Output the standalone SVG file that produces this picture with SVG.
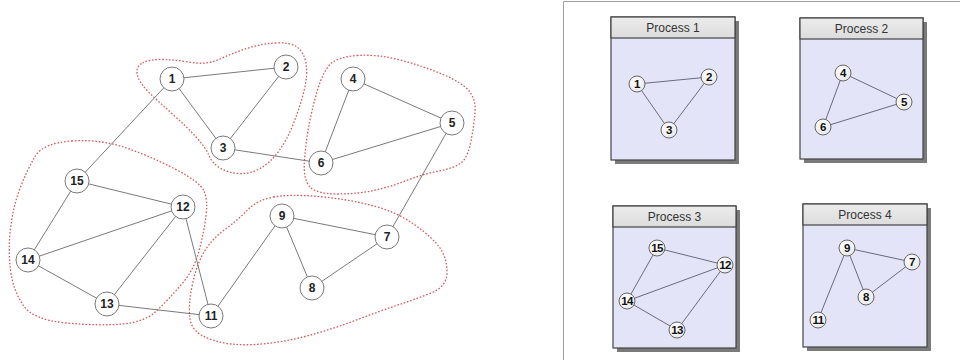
<svg xmlns="http://www.w3.org/2000/svg" width="960" height="360" viewBox="0 0 960 360">
<defs>
<radialGradient id="ng" cx="0.4" cy="0.35" r="0.7">
<stop offset="0" stop-color="#ffffff"/><stop offset="1" stop-color="#e8e8e8"/>
</radialGradient>
<linearGradient id="hg" x1="0" y1="0" x2="0" y2="1">
<stop offset="0" stop-color="#ececec"/><stop offset="1" stop-color="#dcdcdc"/>
</linearGradient>
</defs>
<style>
.e{stroke:#7a7a7a;stroke-width:1;fill:none}
.n circle{fill:#fff;stroke:#7a7a7a;stroke-width:1}
.n text{font-family:"Liberation Sans",Arial,sans-serif;font-weight:bold;font-size:12px;fill:#222;text-anchor:middle}
.s circle{fill:url(#ng);stroke:#666;stroke-width:1}
.s text{font-family:"Liberation Sans",Arial,sans-serif;font-weight:bold;font-size:11.5px;fill:#111;text-anchor:middle;letter-spacing:-0.6px}
.blob{fill:none;stroke:#d65a5a;stroke-width:1.3;stroke-dasharray:1.6 1.8}
.sh{fill:#7a7a7a}
.body{fill:#e4e4f8;stroke:#444;stroke-width:1.2}
.hd{fill:url(#hg);stroke:#444;stroke-width:1.2}
.ht{font-family:"Liberation Sans",Arial,sans-serif;font-size:12px;fill:#333;text-anchor:middle}
.se{stroke:#6a6a80;stroke-width:1;fill:none}
</style>
<rect width="960" height="360" fill="#fff"/>

<g id="partitions">
<path class="blob" d="M142.5,63 Q150,59 163.5,59.5 Q177,60 192,62.5 Q207,65 220,59 Q233,53 246.5,48.5 Q260,44 275,43 Q290,42 297,47 Q304,52 306,63.5 Q308,75 304,91 Q300,107 293.5,123.5 Q287,140 278.5,151.5 Q270,163 260,168.5 Q250,174 239,173.5 Q228,173 220,168 Q212,163 209,155.5 Q206,148 196.5,137.5 Q187,127 173.5,115 Q160,103 150,93.5 Q140,84 137.5,75.5 Q135,67 142.5,63 Z"/>
<path class="blob" d="M357,55.5 Q377,54 400,60 Q423,66 443,74.5 Q463,83 469.5,91.5 Q476,100 475,112.5 Q474,125 471,141 Q468,157 461.5,162.5 Q455,168 439,171 Q423,174 406.5,180.5 Q390,187 373.5,190.5 Q357,194 337,194 Q317,194 310,187 Q303,180 304.5,160 Q306,140 309.5,122.5 Q313,105 318,88.5 Q323,72 330,64.5 Q337,57 357,55.5 Z"/>
<path class="blob" d="M71.5,141 Q100,139 125,147.5 Q150,156 175,169 Q200,182 204,191 Q208,200 206,216 Q204,232 199,251 Q194,270 181,285 Q168,300 156.5,311 Q145,322 122.5,324 Q100,326 66.5,323 Q33,320 23,305 Q13,290 10.5,270 Q8,250 10.5,228.5 Q13,207 20,188.5 Q27,170 35,156.5 Q43,143 71.5,141 Z"/>
<path class="blob" d="M273.5,197 Q290,194 318.5,196.5 Q347,199 372,205.5 Q397,212 415,225 Q433,238 440,248 Q447,258 447,272.5 Q447,287 430,293.5 Q413,300 396.5,305.5 Q380,311 355,320.5 Q330,330 305,336.5 Q280,343 255,344.5 Q230,346 211,339.5 Q192,333 190,319 Q188,305 192.5,284 Q197,263 205,250.5 Q213,238 225.5,229 Q238,220 247.5,210 Q257,200 273.5,197 Z"/>
</g>

<g id="connectors">
<line class="e" x1="172" y1="79" x2="286" y2="67"/>
<line class="e" x1="172" y1="79" x2="223" y2="148"/>
<line class="e" x1="286" y1="67" x2="223" y2="148"/>
<line class="e" x1="223" y1="148" x2="321" y2="163"/>
<line class="e" x1="172" y1="79" x2="77" y2="181"/>
<line class="e" x1="353" y1="79" x2="452" y2="123"/>
<line class="e" x1="353" y1="79" x2="321" y2="163"/>
<line class="e" x1="321" y1="163" x2="452" y2="123"/>
<line class="e" x1="452" y1="123" x2="387" y2="237"/>
<line class="e" x1="77" y1="181" x2="183" y2="207"/>
<line class="e" x1="77" y1="181" x2="28" y2="260"/>
<line class="e" x1="28" y1="260" x2="183" y2="207"/>
<line class="e" x1="183" y1="207" x2="107" y2="304"/>
<line class="e" x1="28" y1="260" x2="107" y2="304"/>
<line class="e" x1="183" y1="207" x2="211" y2="316"/>
<line class="e" x1="107" y1="304" x2="211" y2="316"/>
<line class="e" x1="282" y1="216" x2="211" y2="316"/>
<line class="e" x1="282" y1="216" x2="387" y2="237"/>
<line class="e" x1="282" y1="216" x2="312" y2="288"/>
<line class="e" x1="312" y1="288" x2="387" y2="237"/>
</g>

<g id="n1" class="n"><circle cx="172" cy="79" r="12"/><text x="172" y="83">1</text></g>
<g id="n2" class="n"><circle cx="286" cy="67" r="12"/><text x="286" y="71">2</text></g>
<g id="n3" class="n"><circle cx="223" cy="148" r="12"/><text x="223" y="152">3</text></g>
<g id="n4" class="n"><circle cx="353" cy="79" r="12"/><text x="353" y="83">4</text></g>
<g id="n5" class="n"><circle cx="452" cy="123" r="12"/><text x="452" y="127">5</text></g>
<g id="n6" class="n"><circle cx="321" cy="163" r="12"/><text x="321" y="167">6</text></g>
<g id="n7" class="n"><circle cx="387" cy="237" r="12"/><text x="387" y="241">7</text></g>
<g id="n8" class="n"><circle cx="312" cy="288" r="12"/><text x="312" y="292">8</text></g>
<g id="n9" class="n"><circle cx="282" cy="216" r="12"/><text x="282" y="220">9</text></g>
<g id="n11" class="n"><circle cx="211" cy="316" r="12"/><text x="211" y="320">11</text></g>
<g id="n12" class="n"><circle cx="183" cy="207" r="12"/><text x="183" y="211">12</text></g>
<g id="n13" class="n"><circle cx="107" cy="304" r="12"/><text x="107" y="308">13</text></g>
<g id="n14" class="n"><circle cx="28" cy="260" r="12"/><text x="28" y="264">14</text></g>
<g id="n15" class="n"><circle cx="77" cy="181" r="12"/><text x="77" y="185">15</text></g>

<g id="frame">
<line x1="563.5" y1="1.5" x2="563.5" y2="360" stroke="#a0a0a0" stroke-width="1"/>
<line x1="563.5" y1="1.5" x2="960" y2="1.5" stroke="#a0a0a0" stroke-width="1"/>
</g>

<g id="process1">
<rect class="sh" x="615" y="21" width="124" height="143"/>
<rect class="body" x="611" y="17" width="124" height="143"/>
<rect class="hd" x="611" y="17" width="124" height="21"/>
<text class="ht" x="673" y="32">Process 1</text>
<line class="se" x1="637" y1="84" x2="709" y2="77"/>
<line class="se" x1="637" y1="84" x2="669" y2="130"/>
<line class="se" x1="709" y1="77" x2="669" y2="130"/>
<g class="s"><circle cx="637" cy="84" r="8"/><text x="637" y="88">1</text></g>
<g class="s"><circle cx="709" cy="77" r="8"/><text x="709" y="81">2</text></g>
<g class="s"><circle cx="669" cy="130" r="8"/><text x="669" y="134">3</text></g>
</g>

<g id="process2">
<rect class="sh" x="804" y="22" width="123" height="141"/>
<rect class="body" x="800" y="18" width="123" height="141"/>
<rect class="hd" x="800" y="18" width="123" height="21"/>
<text class="ht" x="861.5" y="33">Process 2</text>
<line class="se" x1="843" y1="73" x2="904" y2="102"/>
<line class="se" x1="843" y1="73" x2="823" y2="127"/>
<line class="se" x1="823" y1="127" x2="904" y2="102"/>
<g class="s"><circle cx="843" cy="73" r="8"/><text x="843" y="77">4</text></g>
<g class="s"><circle cx="904" cy="102" r="8"/><text x="904" y="106">5</text></g>
<g class="s"><circle cx="823" cy="127" r="8"/><text x="823" y="131">6</text></g>
</g>

<g id="process3">
<rect class="sh" x="617" y="210" width="123" height="142"/>
<rect class="body" x="613" y="206" width="123" height="142"/>
<rect class="hd" x="613" y="206" width="123" height="21"/>
<text class="ht" x="674.5" y="221">Process 3</text>
<line class="se" x1="657" y1="248" x2="725" y2="265"/>
<line class="se" x1="657" y1="248" x2="627" y2="301"/>
<line class="se" x1="627" y1="301" x2="725" y2="265"/>
<line class="se" x1="627" y1="301" x2="677" y2="330"/>
<line class="se" x1="677" y1="330" x2="725" y2="265"/>
<g class="s"><circle cx="657" cy="248" r="8"/><text x="657" y="252">15</text></g>
<g class="s"><circle cx="725" cy="265" r="8"/><text x="725" y="269">12</text></g>
<g class="s"><circle cx="627" cy="301" r="8"/><text x="627" y="305">14</text></g>
<g class="s"><circle cx="677" cy="330" r="8"/><text x="677" y="334">13</text></g>
</g>

<g id="process4">
<rect class="sh" x="807" y="208" width="124" height="143"/>
<rect class="body" x="803" y="204" width="124" height="143"/>
<rect class="hd" x="803" y="204" width="124" height="21"/>
<text class="ht" x="865" y="219">Process 4</text>
<line class="se" x1="847" y1="248" x2="912" y2="262"/>
<line class="se" x1="847" y1="248" x2="866" y2="297"/>
<line class="se" x1="866" y1="297" x2="912" y2="262"/>
<line class="se" x1="847" y1="248" x2="818" y2="320"/>
<g class="s"><circle cx="847" cy="248" r="8"/><text x="847" y="252">9</text></g>
<g class="s"><circle cx="912" cy="262" r="8"/><text x="912" y="266">7</text></g>
<g class="s"><circle cx="866" cy="297" r="8"/><text x="866" y="301">8</text></g>
<g class="s"><circle cx="818" cy="320" r="8"/><text x="818" y="324">11</text></g>
</g>
</svg>
